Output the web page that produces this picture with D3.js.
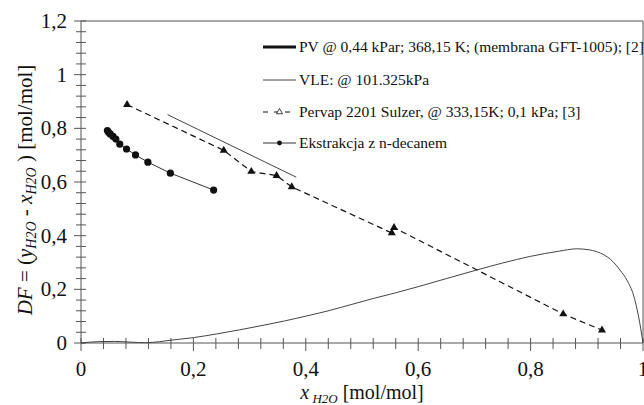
<!DOCTYPE html>
<html><head><meta charset="utf-8">
<script src="https://cdn.jsdelivr.net/npm/d3@7"></script>
<style>body{margin:0;background:#fff}svg{display:block}svg text{font-family:"Liberation Serif","Times New Roman",Times,"DejaVu Serif",serif}</style>
</head><body><svg id="c" width="644" height="405"></svg>
<script>
// VLE curve @101.325 kPa
const vleX = [0,0.03,0.06,0.09,0.115,0.14,0.162,0.2,0.242,0.282,0.322,0.362,0.402,0.442,0.482,0.522,0.56,0.6,0.65,0.704,0.75,0.8,0.85,0.882,0.905,0.924,0.942,0.959,0.972,0.983,0.992,1.0];
const vleY = [0,0.005,0.006,0.003,0.001,0.005,0.011,0.02,0.034,0.049,0.065,0.082,0.101,0.121,0.144,0.167,0.187,0.21,0.24,0.272,0.298,0.323,0.342,0.351,0.347,0.335,0.312,0.272,0.232,0.179,0.1,0];
// thin straight segment
const segX = [0.154,0.383];
const segY = [0.851,0.618];
// Pervap 2201 Sulzer
const pvpX = [0.082,0.254,0.303,0.348,0.375,0.553,0.557,0.858,0.927];
const pvpY = [0.888,0.718,0.639,0.624,0.582,0.41,0.43,0.108,0.048];
// Ekstrakcja z n-decanem
const ekX = [0.047,0.049,0.052,0.057,0.062,0.069,0.081,0.097,0.119,0.159,0.236];
const ekY = [0.792,0.785,0.779,0.770,0.760,0.741,0.723,0.701,0.674,0.633,0.570];
const xTickLabels = ["0","0,2","0,4","0,6","0,8","1"];
const yTickLabels = ["0","0,2","0,4","0,6","0,8","1","1,2"];
const legendLabels = ["PV @ 0,44 kPar; 368,15 K; (membrana GFT-1005); [2]","VLE: @ 101.325kPa","Pervap 2201 Sulzer,  @ 333,15K; 0,1 kPa; [3]","Ekstrakcja z n-decanem"];

const svg = d3.select("#c");
const x = d3.scaleLinear().domain([0,1]).range([81,643]);
const y = d3.scaleLinear().domain([0,1.2]).range([343,21]);
const ax = "#555";
const tc = "#111";

// frame top & right
svg.append("path").attr("d",`M${x(0)},${y(1.2)}H${x(1)}V${y(0)}`).attr("fill","none").attr("stroke",ax).attr("stroke-width",1);

// x axis
const gx = svg.append("g");
gx.append("line").attr("x1",x(0)).attr("x2",x(1)).attr("y1",y(0)).attr("y2",y(0)).attr("stroke",ax);
d3.range(0,26).forEach(i=>{
  const v=i*0.04, major = i%5===0;
  gx.append("line").attr("x1",x(v)).attr("x2",x(v)).attr("y1",y(0)-5).attr("y2",y(0)+(major?8:6)).attr("stroke",ax);
});
xTickLabels.forEach((t,i)=>{
  gx.append("text").attr("x",x(i*0.2)).attr("y",376).attr("text-anchor","middle").attr("font-size",21).attr("fill",tc).text(t);
});
// y axis
const gy = svg.append("g");
gy.append("line").attr("x1",x(0)).attr("x2",x(0)).attr("y1",y(0)).attr("y2",y(1.2)).attr("stroke",ax);
d3.range(0,31).forEach(i=>{
  const v=i*0.04, major = i%5===0;
  gy.append("line").attr("x1",x(0)-(major?7:5)).attr("x2",x(0)+5).attr("y1",y(v)).attr("y2",y(v)).attr("stroke",ax);
});
yTickLabels.forEach((t,i)=>{
  gy.append("text").attr("x",67).attr("y",y(i*0.2)+7).attr("text-anchor","end").attr("font-size",21).attr("fill",tc).text(t);
});

const line = d3.line().x(d=>x(d[0])).y(d=>y(d[1]));
// VLE
svg.append("path").datum(vleX.map((v,i)=>[v,vleY[i]])).attr("d",line.curve(d3.curveMonotoneX)).attr("fill","none").attr("stroke","#444").attr("stroke-width",1);
line.curve(d3.curveLinear);
// segment
svg.append("path").datum(segX.map((v,i)=>[v,segY[i]])).attr("d",line).attr("fill","none").attr("stroke","#444").attr("stroke-width",1);
// Pervap
svg.append("path").datum(pvpX.map((v,i)=>[v,pvpY[i]])).attr("d",line).attr("fill","none").attr("stroke","#111").attr("stroke-width",1.2).attr("stroke-dasharray","6,4");
const tri = d3.symbol().type(d3.symbolTriangle).size(28);
svg.selectAll(".tri").data(pvpX.map((v,i)=>[v,pvpY[i]])).join("path").attr("transform",d=>`translate(${x(d[0])},${y(d[1])})`).attr("d",tri).attr("fill","#111");
// Ekstrakcja
svg.append("path").datum(ekX.map((v,i)=>[v,ekY[i]])).attr("d",line).attr("fill","none").attr("stroke","#333").attr("stroke-width",1);
svg.selectAll(".ek").data(ekX.map((v,i)=>[v,ekY[i]])).join("circle").attr("cx",d=>x(d[0])).attr("cy",d=>y(d[1])).attr("r",3.6).attr("fill","#111");

// legend
const lg = svg.append("g");
const rows=[47,80,112,143];
const lx1=263, lx2=296;
lg.append("line").attr("x1",lx1).attr("x2",lx2).attr("y1",rows[0]).attr("y2",rows[0]).attr("stroke","#111").attr("stroke-width",3);
lg.append("line").attr("x1",lx1).attr("x2",lx2).attr("y1",rows[1]).attr("y2",rows[1]).attr("stroke","#444").attr("stroke-width",1);
lg.append("line").attr("x1",lx1).attr("x2",lx2).attr("y1",rows[2]).attr("y2",rows[2]).attr("stroke","#111").attr("stroke-width",1.2).attr("stroke-dasharray","5,6");
lg.append("path").attr("transform",`translate(${(lx1+lx2)/2},${rows[2]})`).attr("d",d3.symbol().type(d3.symbolTriangle).size(16)).attr("fill","#fff").attr("stroke","#111").attr("stroke-width",0.8);
lg.append("line").attr("x1",lx1).attr("x2",lx2).attr("y1",rows[3]).attr("y2",rows[3]).attr("stroke","#333").attr("stroke-width",1);
lg.append("circle").attr("cx",(lx1+lx2)/2).attr("cy",rows[3]).attr("r",2.4).attr("fill","#111");
legendLabels.forEach((t,i)=>{
  lg.append("text").attr("x",299).attr("y",rows[i]+5).attr("font-size",15.5).attr("fill",tc).text(t);
});

// y label
const yl = svg.append("text").attr("transform","translate(32,190) rotate(-90)").attr("text-anchor","middle").attr("font-size",21).attr("fill",tc);
yl.append("tspan").attr("font-style","italic").text("DF");
yl.append("tspan").text(" = (");
yl.append("tspan").attr("font-style","italic").text("y");
yl.append("tspan").attr("font-style","italic").attr("font-size",14).attr("dy",4).text("H2O");
yl.append("tspan").attr("dy",-4).text("  - ");
yl.append("tspan").attr("font-style","italic").text("x");
yl.append("tspan").attr("font-style","italic").attr("font-size",14).attr("dy",4).text("H2O");
yl.append("tspan").attr("dy",-4).text(" ) [mol/mol]");
// x label
const xl = svg.append("text").attr("x",362).attr("y",399).attr("text-anchor","middle").attr("font-size",20).attr("fill",tc);
xl.append("tspan").attr("font-style","italic").text("x");
xl.append("tspan").attr("font-style","italic").attr("font-size",13).attr("dy",4).text(" H2O");
xl.append("tspan").attr("dy",-4).text("  [mol/mol]");
</script></body></html>
